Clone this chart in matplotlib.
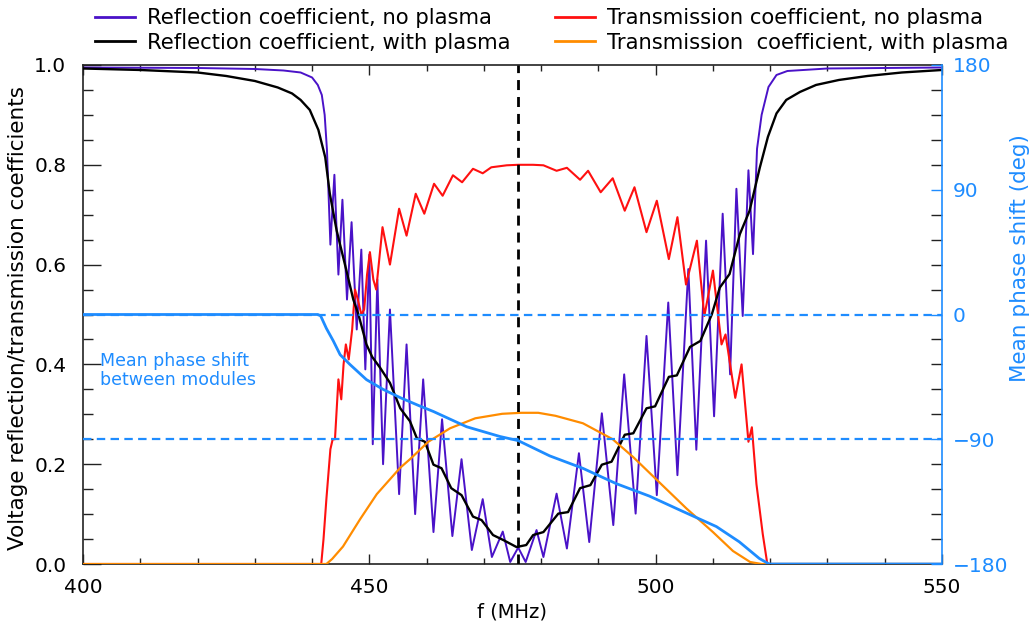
import matplotlib
matplotlib.use("Agg")
import matplotlib.pyplot as plt
from matplotlib.ticker import MultipleLocator
from matplotlib.lines import Line2D

# ---------------- data ----------------
# Reflection coefficient, no plasma
refl_np_f = [400, 420, 430, 435, 438, 440, 441, 441.7, 442.2, 442.6,
             443.2, 443.9, 444.6, 445.3, 446.1, 446.9, 447.8, 448.6, 449.3, 450.0,
             450.6, 451.4, 452.4, 453.6, 455.2, 456.5, 458.0, 459.4, 461.2, 462.7,
             464.5, 466.1, 467.9, 469.8, 471.4, 473.3, 474.6, 476.0, 477.3, 479.2,
             480.4, 482.7, 484.5, 486.6, 488.4, 490.6, 492.6, 494.5, 496.5, 498.4,
             500.2, 502.2, 503.8, 505.7, 507.1, 508.8, 510.2, 511.7, 513.0, 514.1,
             515.2, 516.2, 517.0, 517.7, 518.5, 519.7, 521.1, 523, 530, 550]
refl_np_r = [0.995, 0.994, 0.992, 0.989, 0.985, 0.975, 0.96, 0.94, 0.90, 0.83,
             0.64, 0.78, 0.58, 0.73, 0.53, 0.685, 0.47, 0.63, 0.39, 0.62,
             0.24, 0.57, 0.20, 0.51, 0.14, 0.44, 0.10, 0.37, 0.064, 0.29,
             0.056, 0.21, 0.028, 0.13, 0.014, 0.065, 0.004, 0.033, 0.004, 0.068,
             0.014, 0.141, 0.031, 0.222, 0.044, 0.302, 0.078, 0.380, 0.101, 0.457,
             0.138, 0.524, 0.178, 0.591, 0.229, 0.648, 0.296, 0.702, 0.380, 0.752,
             0.497, 0.789, 0.621, 0.832, 0.90, 0.956, 0.980, 0.988, 0.993, 0.995]

# Reflection coefficient, with plasma
refl_wp_f = [400, 410, 420, 425, 430, 434, 436.5, 438, 439.6, 441.1,
             442.3, 443.1, 444.3, 446.0, 447.2, 448.1, 449.5, 450.5, 451.9, 453.6,
             455.4, 457.1, 458.3, 459.7, 461.2, 462.6, 464.3, 466.1, 468.1, 469.6,
             471.6, 473.4, 475.7, 477.4, 478.6, 480.4, 483.0, 484.7, 486.8, 488.6,
             490.6, 492.3, 494.6, 496.1, 498.4, 499.9, 502.3, 503.7, 506.0, 507.8,
             509.8, 511.2, 512.9, 514.7, 516.4, 518.2, 519.6, 521.1, 522.8, 525.2,
             528, 532, 537, 543, 550]
refl_wp_r = [0.993, 0.990, 0.985, 0.978, 0.968, 0.955, 0.943, 0.93, 0.91, 0.87,
             0.815, 0.742, 0.668, 0.588, 0.53, 0.50, 0.44, 0.415, 0.393, 0.363,
             0.312, 0.286, 0.252, 0.245, 0.199, 0.192, 0.152, 0.138, 0.095, 0.088,
             0.058, 0.048, 0.034, 0.038, 0.058, 0.064, 0.101, 0.104, 0.152, 0.158,
             0.199, 0.205, 0.259, 0.262, 0.312, 0.316, 0.375, 0.378, 0.435, 0.447,
             0.50, 0.554, 0.581, 0.661, 0.708, 0.795, 0.856, 0.903, 0.930, 0.946,
             0.960, 0.970, 0.978, 0.985, 0.990]

# Transmission coefficient, no plasma
trans_np_f = [400, 441.6, 442.0, 442.5, 443.2, 443.6, 444.0, 444.6, 445.1, 445.5,
              445.9, 446.4, 447.0, 447.5, 448.0, 448.6, 449.1, 449.6, 450.1, 450.7,
              451.2, 452.3, 453.6, 455.2, 456.5, 458.1, 459.6, 461.3, 462.8, 464.6,
              466.2, 468.1, 469.8, 471.3, 474.0, 476.0, 478.6, 480.4, 482.7, 484.5,
              486.8, 488.2, 490.4, 492.5, 494.6, 496.3, 498.4, 500.2, 502.3, 503.8,
              505.3, 507.2, 508.5, 510.0, 511.5, 512.2, 513.9, 515.0, 516.2, 516.8,
              517.6, 518.7, 519.5, 550]
trans_np_t = [0.0, 0.0, 0.05, 0.13, 0.23, 0.25, 0.25, 0.37, 0.33, 0.40,
              0.44, 0.41, 0.47, 0.55, 0.53, 0.50, 0.51, 0.58, 0.625, 0.57,
              0.55, 0.675, 0.60, 0.712, 0.658, 0.742, 0.702, 0.762, 0.738, 0.779,
              0.765, 0.792, 0.783, 0.795, 0.799, 0.80, 0.80, 0.799, 0.788, 0.794,
              0.770, 0.788, 0.745, 0.773, 0.708, 0.755, 0.665, 0.728, 0.611, 0.695,
              0.56, 0.648, 0.497, 0.588, 0.44, 0.46, 0.333, 0.40, 0.245, 0.274,
              0.16, 0.06, 0.0, 0.0]

# Transmission coefficient, with plasma
trans_wp_f = [400, 442.5, 443.5, 445.4, 448.4, 451.3, 455.4, 457.1, 460.3, 464.1,
              468.5, 473.2, 476.5, 479.5, 482.5, 487.3, 492.5, 496.1, 500.7, 505.4,
              510.0, 513.5, 516.5, 518.5, 550]
trans_wp_t = [0.0, 0.0, 0.01, 0.035, 0.09, 0.14, 0.193, 0.21, 0.245, 0.272,
              0.292, 0.301, 0.303, 0.303, 0.297, 0.282, 0.25, 0.214, 0.163, 0.111,
              0.064, 0.026, 0.004, 0.0, 0.0]

# Mean phase shift between modules (deg, right axis)
phase_f = [400, 441.0, 441.5, 442.5, 443.7, 444.9, 446.6, 449.5, 452.4, 455.4,
           458.8, 461.2, 467.0, 472.8, 476.0, 481.5, 487.3, 493.1, 498.9, 504.7,
           510.6, 514.6, 518.1, 519.8, 550]
phase_deg = [0, 0, -1, -10, -19, -29, -36, -47, -54, -60,
             -66, -70, -81, -88, -91, -102, -111, -122, -131, -142,
             -153, -164, -176, -180, -180]

center_f = 476.0
ref_levels_deg = [0, -90]

legend_labels = ["Reflection coefficient, no plasma",
                 "Reflection coefficient, with plasma",
                 "Transmission coefficient, no plasma",
                 "Transmission  coefficient, with plasma"]

# ---------------- styling ----------------
C_PURPLE = "#4a12c8"
C_BLACK = "#000000"
C_RED = "#ff1010"
C_ORANGE = "#ff8c00"
C_BLUE = "#1e8cff"
FS_LEG = 15.2
FS_TICK = 14.5
plt.rcParams["font.family"] = ["DejaVu Sans"]

W, H = 1035, 636
fig = plt.figure(figsize=(W / 100, H / 100), dpi=100)
L, R, T, B = 83, 942, 65, 564
ax = fig.add_axes([L / W, 1 - B / H, (R - L) / W, (B - T) / H])
ax2 = ax.twinx()

ax.set_xlim(400, 550)
ax.set_ylim(0, 1.0)
ax2.set_ylim(-180, 180)

# reference lines
for lev in ref_levels_deg:
    ax2.axhline(lev, color=C_BLUE, lw=1.6, dashes=(3.8, 2.4), zorder=1)
ax.axvline(center_f, color="black", lw=2.0, dashes=(3.6, 2.5), zorder=5)

ax.plot(refl_np_f, refl_np_r, color=C_PURPLE, lw=1.4, zorder=2)
ax.plot(trans_np_f, trans_np_t, color=C_RED, lw=1.5, zorder=3)
ax.plot(refl_wp_f, refl_wp_r, color=C_BLACK, lw=1.7, zorder=4)
ax.plot(trans_wp_f, trans_wp_t, color=C_ORANGE, lw=1.6, zorder=4)
ax2.plot(phase_f, phase_deg, color=C_BLUE, lw=2.0, zorder=6)

# axes styling
ax.xaxis.set_major_locator(MultipleLocator(50))
ax.xaxis.set_minor_locator(MultipleLocator(10))
ax.yaxis.set_major_locator(MultipleLocator(0.2))
ax.yaxis.set_minor_locator(MultipleLocator(0.05))
ax.tick_params(axis="x", which="both", direction="in", top=True, bottom=True,
               labelsize=FS_TICK, pad=10, width=1.0, color="#222222")
ax.tick_params(axis="x", which="major", length=7.5)
ax.tick_params(axis="x", which="minor", length=4)
ax.tick_params(axis="y", which="both", direction="in", left=True, right=False,
               labelsize=FS_TICK, pad=12, width=1.0, color="#222222")
ax.tick_params(axis="y", which="major", length=13)
ax.tick_params(axis="y", which="minor", length=7)
for s in ["left", "top", "bottom"]:
    ax.spines[s].set_linewidth(1.2)
    ax.spines[s].set_color("#222222")
ax.spines["right"].set_visible(False)

ax2.yaxis.set_major_locator(MultipleLocator(90))
ax2.yaxis.set_minor_locator(MultipleLocator(18))
ax2.tick_params(axis="y", which="major", direction="in", length=8, width=1.0,
                color=C_BLUE, labelcolor=C_BLUE, labelsize=FS_TICK, pad=8)
ax2.tick_params(axis="y", which="minor", direction="in", length=8, width=1.0,
                color="#222222")
for s in ["left", "top", "bottom"]:
    ax2.spines[s].set_visible(False)
ax2.spines["right"].set_color(C_BLUE)
ax2.spines["right"].set_linewidth(1.2)

# axis titles
fig.text(512 / W, 1 - 612 / H, "f (MHz)", ha="center", va="center", fontsize=14)
fig.text(18 / W, 1 - 318 / H, "Voltage reflection/transmission coefficients",
         rotation=90, ha="center", va="center", fontsize=15.5)
fig.text(1020 / W, 1 - 258 / H, "Mean phase shift (deg)", rotation=90,
         ha="center", va="center", fontsize=15.5, color=C_BLUE)

ax.text(403.0, 0.425, "Mean phase shift\nbetween modules", color=C_BLUE,
        fontsize=12.5, ha="left", va="top", linespacing=1.05, zorder=7)

# legend (two columns)
hs = [Line2D([], [], color=C_PURPLE, lw=2), Line2D([], [], color=C_BLACK, lw=2),
      Line2D([], [], color=C_RED, lw=2), Line2D([], [], color=C_ORANGE, lw=2)]
common = dict(loc="upper left", frameon=False, fontsize=FS_LEG, borderpad=0,
              borderaxespad=0, handlelength=1.9, handletextpad=0.55,
              labelspacing=0.22)
fig.legend(hs[:2], legend_labels[:2], bbox_to_anchor=(95 / W, 1 - 8 / H), **common)
fig.legend(hs[2:], legend_labels[2:], bbox_to_anchor=(555 / W, 1 - 8 / H), **common)

fig.savefig("out.png", dpi=100)
